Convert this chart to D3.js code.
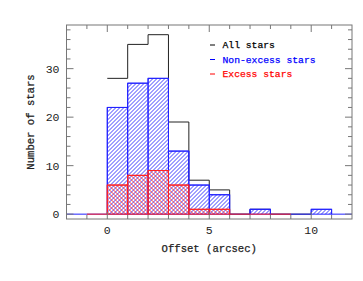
<!DOCTYPE html>
<html>
<head>
<meta charset="utf-8">
<script src="https://cdn.jsdelivr.net/npm/d3@7"></script>
<style>
  body { margin: 0; background: #fff; }
  text { font-family: "Liberation Mono", "DejaVu Sans Mono", monospace; }
</style>
</head>
<body>
<svg id="chart"></svg>
<script>
// histogram bins, width 1 arcsec, left edges
const binStart = [-2, -1, 0, 1, 2, 3, 4, 5, 6, 7, 8, 9, 10, 11];
const allStars = [0, 0, 28, 35, 37, 19, 7, 5, 0, 1, 0, 0, 1, 0];
const nonExcess = [0, 0, 22, 27, 28, 13, 6, 4, 0, 1, 0, 0, 1, 0];
const excess = [0, 0, 6, 8, 9, 6, 1, 1, 0, 0, 0, 0, 0, 0];
const xTicks = [0, 5, 10];
const yTicks = [0, 10, 20, 30];
const legendLabels = ["All stars", "Non-excess stars", "Excess stars"];

const W = 363, H = 281;
const svg = d3.select('#chart').attr('width', W).attr('height', H);

const x = d3.scaleLinear().domain([-2, 12]).range([66.5, 352]);
const y = d3.scaleLinear().domain([-1, 39]).range([219, 25]);

const bins = binStart.map((b, i) => ({ b, n: nonExcess[i], e: excess[i] }));
const defs = svg.append('defs');

function addClip(id, key) {
  defs.append('clipPath').attr('id', id)
    .selectAll('rect').data(bins.filter(d => d[key] > 0)).enter()
    .append('rect')
    .attr('x', d => x(d.b)).attr('width', d => x(d.b + 1) - x(d.b))
    .attr('y', d => y(d[key])).attr('height', d => y(0) - y(d[key]));
}
addClip('clipBlue', 'n');
addClip('clipRed', 'e');

// diagonal hatching lines across the plot box, clipped to the bars
const gap = 4;
const x0 = x(-2), x1 = x(12), yTop = y(39), yBot = y(-1);
const span = yBot - yTop;
function hatch(clip, color, dir) {
  const offs = d3.range(x0 - span, x1 + span, gap);
  const hg = svg.append('g').attr('clip-path', `url(#${clip})`);
  hg.selectAll('line').data(offs).enter().append('line')
    .attr('x1', d => d).attr('y1', dir > 0 ? yBot : yTop)
    .attr('x2', d => d + span).attr('y2', dir > 0 ? yTop : yBot)
    .attr('stroke', color).attr('stroke-width', 0.9);
}

// step outline of a histogram between two bin indices
function stepPath(values, from, to) {
  const pts = [];
  for (let i = from; i < to; i++) {
    pts.push([x(binStart[i]), y(values[i])]);
    pts.push([x(binStart[i] + 1), y(values[i])]);
  }
  return d3.line()(pts);
}

// all stars
svg.append('path')
  .attr('d', stepPath(allStars, 2, 12))
  .attr('fill', 'none').attr('stroke', '#222').attr('stroke-width', 1);

// non-excess stars
hatch('clipBlue', '#2a2aff', 1);
svg.append('g').selectAll('rect').data(bins.filter(d => d.n > 0)).enter()
  .append('rect')
  .attr('x', d => x(d.b)).attr('width', d => x(d.b + 1) - x(d.b))
  .attr('y', d => y(d.n)).attr('height', d => y(0) - y(d.n))
  .attr('fill', 'none').attr('stroke', '#2222ff').attr('stroke-width', 1);
svg.append('path')
  .attr('d', stepPath(nonExcess, 0, 14))
  .attr('fill', 'none').attr('stroke', '#2222ff').attr('stroke-width', 1);

// excess stars (red over the blue hatch gives the cross pattern)
hatch('clipRed', '#ff2a2a', -1);
svg.append('g').selectAll('rect').data(bins.filter(d => d.e > 0)).enter()
  .append('rect')
  .attr('x', d => x(d.b)).attr('width', d => x(d.b + 1) - x(d.b))
  .attr('y', d => y(d.e)).attr('height', d => y(0) - y(d.e))
  .attr('fill', 'none').attr('stroke', '#ff2222').attr('stroke-width', 1);
svg.append('path')
  .attr('d', stepPath(excess, 1, 11))
  .attr('fill', 'none').attr('stroke', '#ff2222').attr('stroke-width', 1);

// frame and ticks
const frameColor = '#777';
svg.append('rect')
  .attr('x', x0).attr('y', yTop)
  .attr('width', x1 - x0).attr('height', yBot - yTop)
  .attr('fill', 'none').attr('stroke', frameColor).attr('stroke-width', 1);

const xMinor = d3.range(-1, 12, 1);
const yMinor = d3.range(0, 39, 2);
const tk = svg.append('g').attr('stroke', frameColor).attr('stroke-width', 1);
xMinor.forEach(v => {
  const len = xTicks.includes(v) ? 7 : 4;
  tk.append('line').attr('x1', x(v)).attr('x2', x(v)).attr('y1', yBot).attr('y2', yBot - len);
  tk.append('line').attr('x1', x(v)).attr('x2', x(v)).attr('y1', yTop).attr('y2', yTop + len);
});
yMinor.forEach(v => {
  const len = v % 10 === 0 ? 7 : 4;
  tk.append('line').attr('x1', x0).attr('x2', x0 + len).attr('y1', y(v)).attr('y2', y(v));
  tk.append('line').attr('x1', x1).attr('x2', x1 - len).attr('y1', y(v)).attr('y2', y(v));
});

const txt = '#222';
svg.selectAll('.xl').data(xTicks).enter().append('text')
  .attr('x', d => x(d)).attr('y', 234).attr('text-anchor', 'middle')
  .attr('font-size', 11.5).attr('fill', txt).text(d => d);
svg.selectAll('.yl').data(yTicks).enter().append('text')
  .attr('x', 59.5).attr('y', d => y(d) + 4).attr('text-anchor', 'end')
  .attr('font-size', 11.5).attr('fill', txt).text(d => d);

svg.append('text')
  .attr('x', (x0 + x1) / 2).attr('y', 252).attr('text-anchor', 'middle')
  .attr('font-size', 10.6).attr('fill', txt)
  .attr('stroke', txt).attr('stroke-width', 0.25).text('Offset (arcsec)');
svg.append('text')
  .attr('transform', `translate(33.5,${(yBot + yTop) / 2}) rotate(-90)`)
  .attr('text-anchor', 'middle')
  .attr('font-size', 10.6).attr('fill', txt)
  .attr('stroke', txt).attr('stroke-width', 0.25).text('Number of stars');

// legend
const legColors = ['#000', '#0000ff', '#ff0000'];
const leg = svg.append('g');
legendLabels.forEach((t, i) => {
  const yy = 45 + i * 14.5;
  leg.append('line').attr('x1', 210).attr('x2', 215).attr('y1', yy).attr('y2', yy)
    .attr('stroke', legColors[i]).attr('stroke-width', 1);
  leg.append('text').attr('x', 222.5).attr('y', yy + 3.3)
    .attr('font-size', 9.7).attr('fill', legColors[i])
    .attr('stroke', legColors[i]).attr('stroke-width', 0.25).text(t);
});
</script>
</body>
</html>
